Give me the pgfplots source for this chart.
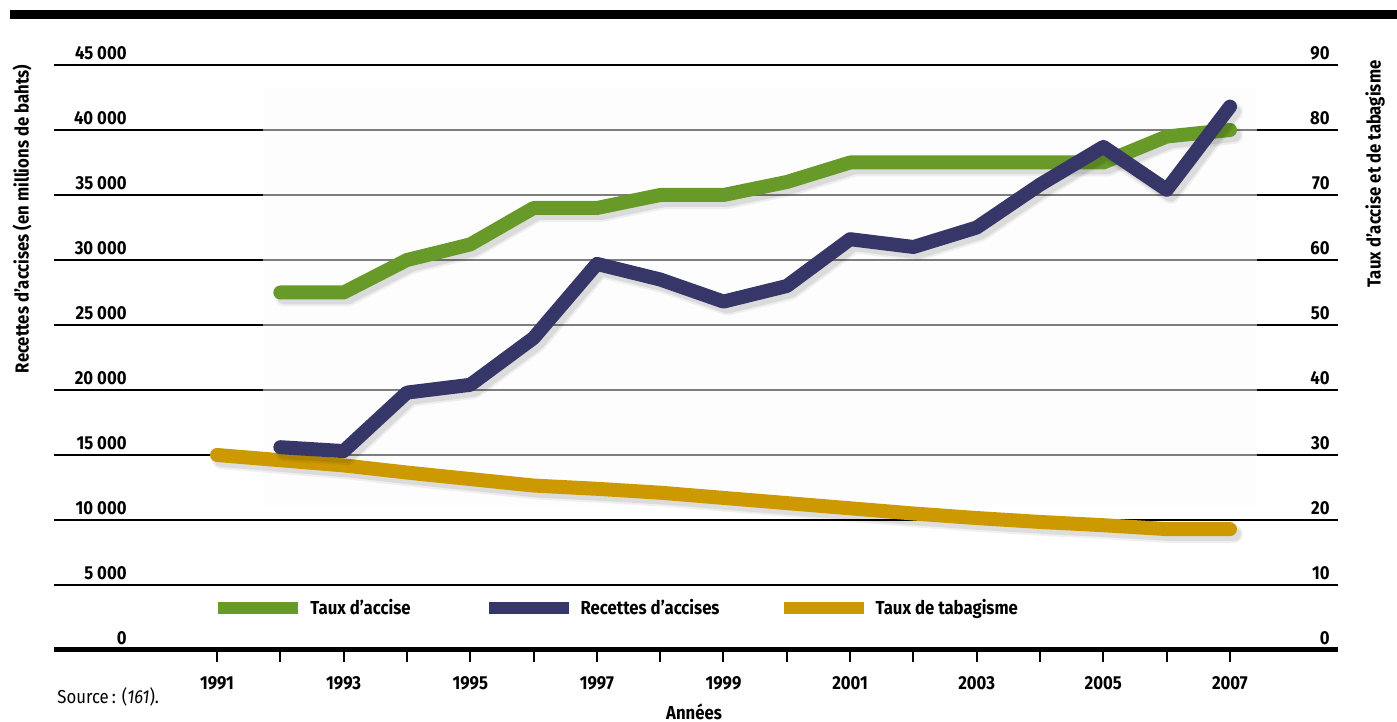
\documentclass[border=0pt]{standalone}
\usepackage{fontspec}
\setmainfont{Fira Sans}[FakeStretch=0.89]
\usepackage{pgfplots}
\pgfplotsset{compat=1.18}
\definecolor{accise}{RGB}{104,154,41}
\definecolor{recettes}{RGB}{54,54,104}
\definecolor{tabac}{RGB}{204,153,0}
\newcommand\lab{\bfseries\fontsize{9.4}{11}\selectfont}

\pgfplotsset{
  base/.style={
    at={(27pt,36pt)}, anchor=south west,
    scale only axis, width=642pt, height=292.5pt,
    xmin=1988.425, xmax=2008.706,
    clip=false,
    axis line style={draw=none},
    /pgf/number format/assume math mode=true,
    tick label style={font=\lab},
    every axis plot/.append style={line cap=round, line join=round, line width=7pt},
  },
  shadow/.style={black, opacity=0.06, line width=9pt, xshift=2pt, yshift=-2.5pt, forget plot},
  shadowb/.style={black, opacity=0.08, line width=7pt, xshift=2pt, yshift=-2.5pt, forget plot},
}

\begin{document}
\begin{tikzpicture}[x=1pt,y=1pt]
\useasboundingbox (0,0) rectangle (698.5,361);
\fill (5,351.5) rectangle (698.5,356);

% right axis: taux (%)
\begin{axis}[base,
  ymin=0, ymax=90, ytick={0,10,...,90},
  yticklabel pos=right,
  yticklabel style={anchor=south east, inner sep=0pt, xshift=-10pt, yshift=2.5pt},
  ytick style={draw=none},
  ymajorgrids, grid style={black, line width=0.6pt},
  xtick={1991,...,2007},
  xticklabels={1991,,1993,,1995,,1997,,1999,,2001,,2003,,2005,,2007},
  xtick pos=bottom, tick align=outside, major tick length=6pt,
  xtick style={black, line width=1pt},
  xticklabel style={anchor=north, inner sep=0pt, yshift=-7pt},
  legend columns=3,
  legend image code/.code={\fill[#1, draw=none] (0pt,-3pt) rectangle (40pt,3pt);},
  legend style={at={(rel axis cs:0.1277,0.0718)}, anchor=west, draw=none, fill=none,
    inner sep=0pt, font=\lab,
    /tikz/every odd column/.append style={column sep=4pt},
    /tikz/column 2/.append style={column sep=37pt},
    /tikz/column 4/.append style={column sep=30pt}},
]
\fill[black!1, opacity=0.5] (axis cs:1991.726,86.5) rectangle (axis cs:2007.427,22.3);
\draw[line width=2.5pt] (rel axis cs:0,0) -- (rel axis cs:1,0);

\addlegendimage{accise}
\addlegendentry{Taux d’accise}
\addlegendimage{recettes}
\addlegendentry{Recettes d’accises}
\addlegendimage{tabac}
\addlegendentry{Taux de tabagisme}

\addplot[shadow] coordinates {(1991,30)(1992,29.2)(1993,28.4)(1994,27.3)(1995,26.3)(1996,25.3)(1997,24.8)(1998,24.2)(1999,23.4)(2000,22.6)(2001,21.8)(2002,21.0)(2003,20.3)(2004,19.7)(2005,19.2)(2006,18.6)(2007,18.6)};
\addplot[shadowb] coordinates {(1991,30)(1992,29.2)(1993,28.4)(1994,27.3)(1995,26.3)(1996,25.3)(1997,24.8)(1998,24.2)(1999,23.4)(2000,22.6)(2001,21.8)(2002,21.0)(2003,20.3)(2004,19.7)(2005,19.2)(2006,18.6)(2007,18.6)};
\addplot[tabac, forget plot] coordinates {(1991,30)(1992,29.2)(1993,28.4)(1994,27.3)(1995,26.3)(1996,25.3)(1997,24.8)(1998,24.2)(1999,23.4)(2000,22.6)(2001,21.8)(2002,21.0)(2003,20.3)(2004,19.7)(2005,19.2)(2006,18.6)(2007,18.6)};
\addplot[shadow] coordinates {(1992,55)(1993,55)(1994,60)(1995,62.4)(1996,68)(1997,68)(1998,70)(1999,70)(2000,72)(2001,75)(2002,75)(2003,75)(2004,75)(2005,75)(2006,79)(2007,80)};
\addplot[shadowb] coordinates {(1992,55)(1993,55)(1994,60)(1995,62.4)(1996,68)(1997,68)(1998,70)(1999,70)(2000,72)(2001,75)(2002,75)(2003,75)(2004,75)(2005,75)(2006,79)(2007,80)};
\addplot[accise, forget plot] coordinates {(1992,55)(1993,55)(1994,60)(1995,62.4)(1996,68)(1997,68)(1998,70)(1999,70)(2000,72)(2001,75)(2002,75)(2003,75)(2004,75)(2005,75)(2006,79)(2007,80)};
\end{axis}

% left axis: recettes
\begin{axis}[base,
  ymin=0, ymax=45000, ytick={0,5000,...,45000},
  scaled y ticks=false,
  /pgf/number format/1000 sep={\ },
  yticklabel style={anchor=south east, inner sep=0pt, xshift=36.5pt, yshift=2.5pt},
  ytick style={draw=none},
  xtick=\empty,
]
\addplot[shadow] coordinates {(1992,15600)(1993,15300)(1994,19800)(1995,20400)(1996,24000)(1997,29700)(1998,28500)(1999,26800)(2000,28000)(2001,31600)(2002,31000)(2003,32500)(2004,35800)(2005,38700)(2006,35400)(2007,41800)};
\addplot[shadowb] coordinates {(1992,15600)(1993,15300)(1994,19800)(1995,20400)(1996,24000)(1997,29700)(1998,28500)(1999,26800)(2000,28000)(2001,31600)(2002,31000)(2003,32500)(2004,35800)(2005,38700)(2006,35400)(2007,41800)};
\addplot[recettes] coordinates {(1992,15600)(1993,15300)(1994,19800)(1995,20400)(1996,24000)(1997,29700)(1998,28500)(1999,26800)(2000,28000)(2001,31600)(2002,31000)(2003,32500)(2004,35800)(2005,38700)(2006,35400)(2007,41800)};
\end{axis}

\node[rotate=90, font=\lab] at (11,251.5) {Recettes d’accises (en millions de bahts)};
\node[rotate=90, font=\lab] at (687.5,274) {Taux d’accise et de tabagisme};
\node[anchor=base, font=\lab] at (347,1) {Années};
\node[anchor=base west, inner sep=0pt, font=\fontsize{9.4}{11}\selectfont] at (28.5,9) {Source\,: (\textit{161}).};
\end{tikzpicture}
\end{document}
